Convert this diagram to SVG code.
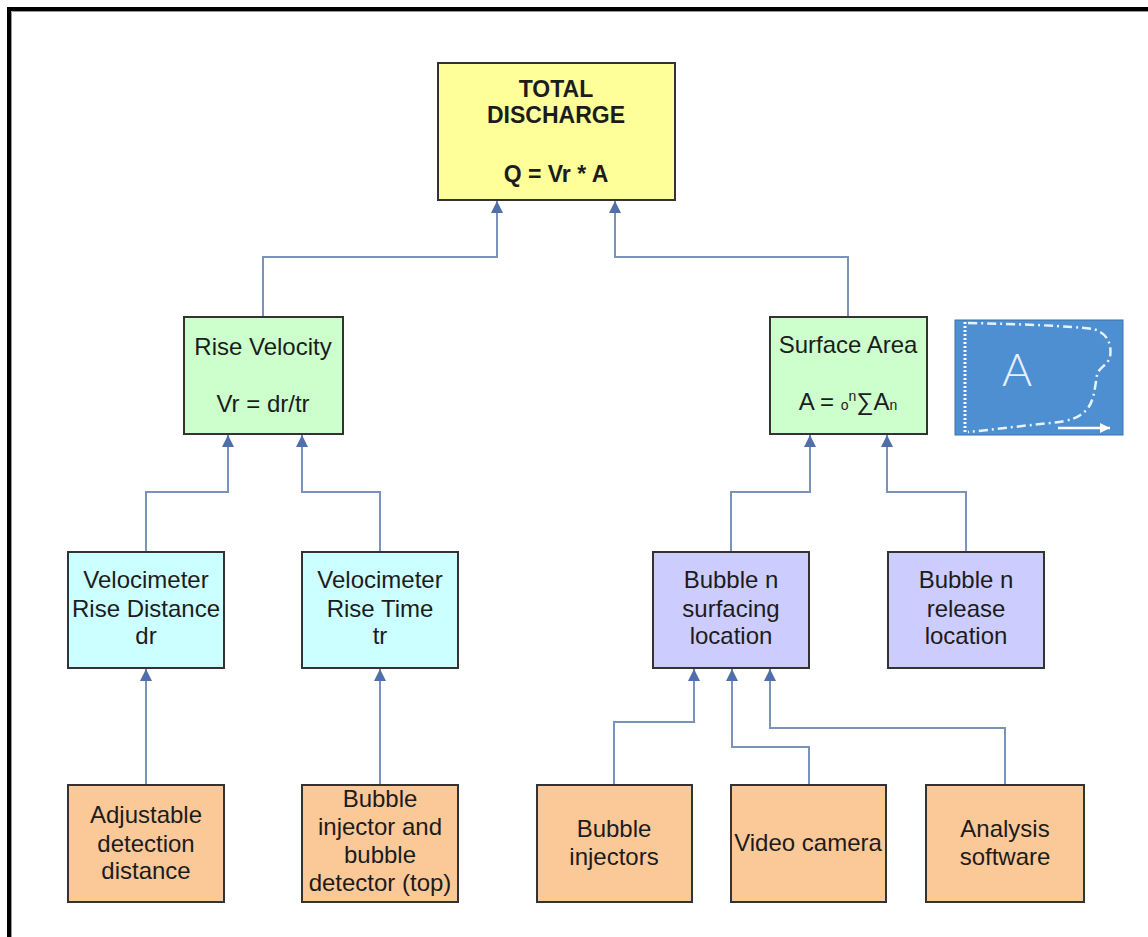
<svg xmlns="http://www.w3.org/2000/svg" width="1148" height="937" viewBox="0 0 1148 937">
<defs>
<style>
.box{stroke:#333;stroke-width:2}
.y{fill:#ffff99}.g{fill:#ccffcc}.c{fill:#ccffff}.p{fill:#ccccff}.o{fill:#fbc898}
.t{font-family:"Liberation Sans",Arial,sans-serif;font-size:24px;fill:#1c1c1c;text-anchor:middle}
.b{font-weight:bold;font-size:23px}
.con{fill:none;stroke:#7a93bd;stroke-width:2}
</style>
<marker id="ah" viewBox="0 0 10 10" refX="10" refY="5" markerWidth="6" markerHeight="6" orient="auto" markerUnits="strokeWidth">
<path d="M0,0 L10,5 L0,10 z" fill="#4f6fa8"/>
</marker>
<marker id="wh" viewBox="0 0 10 10" refX="10" refY="5" markerWidth="4" markerHeight="4" orient="auto" markerUnits="strokeWidth">
<path d="M0,0 L10,5 L0,10 z" fill="#ffffff"/>
</marker>
</defs>
<rect width="1148" height="937" fill="#ffffff"/>
<path d="M9,937 V9 H1148" fill="none" stroke="#000" stroke-width="4"/>
<path d="M11.5,937 V11.5 H1148" fill="none" stroke="#999" stroke-width="1"/>

<g id="connectors">
<path class="con" d="M263,317 V257 H497 V201" marker-end="url(#ah)"/>
<path class="con" d="M848,317 V257 H615 V201" marker-end="url(#ah)"/>
<path class="con" d="M146,552 V492 H228 V435" marker-end="url(#ah)"/>
<path class="con" d="M380,552 V492 H302 V435" marker-end="url(#ah)"/>
<path class="con" d="M731,552 V492 H810 V435" marker-end="url(#ah)"/>
<path class="con" d="M966,552 V492 H887 V435" marker-end="url(#ah)"/>
<path class="con" d="M146,785 V669" marker-end="url(#ah)"/>
<path class="con" d="M380,785 V669" marker-end="url(#ah)"/>
<path class="con" d="M614,785 V722 H694 V669" marker-end="url(#ah)"/>
<path class="con" d="M809,785 V747 H732 V669" marker-end="url(#ah)"/>
<path class="con" d="M1005,785 V728 H770 V669" marker-end="url(#ah)"/>
</g>

<g id="total">
<rect class="box y" x="438" y="63" width="237" height="137"/>
<text class="t b" x="556" y="97">TOTAL</text>
<text class="t b" x="556" y="123">DISCHARGE</text>
<text class="t b" x="556" y="182">Q = Vr * A</text>
</g>

<g id="rise-velocity">
<rect class="box g" x="184" y="317" width="159" height="117"/>
<text class="t" x="263" y="355">Rise Velocity</text>
<text class="t" x="263" y="412">Vr = dr/tr</text>
</g>

<g id="surface-area">
<rect class="box g" x="770" y="317" width="157" height="117"/>
<text class="t" x="848" y="353">Surface Area</text>
<text class="t" x="848" y="410">A = <tspan font-size="14">o</tspan><tspan font-size="14" dy="-9">n</tspan><tspan dy="9">∑A</tspan><tspan font-size="14">n</tspan></text>
</g>

<g id="area-illustration">
<rect x="955" y="320" width="168" height="115" fill="#4d8fd1" stroke="#3f73a8" stroke-width="1"/>
<line x1="965" y1="322" x2="965" y2="434" stroke="#ffffff" stroke-width="3" stroke-dasharray="2,2"/>
<path d="M968,323 C1020,324 1070,326 1093,329 C1108,333 1112,345 1110,357 C1108,365 1098,368 1097,375 C1095,387 1094,400 1088,408 C1080,418 1070,421 1050,423 C1020,426 990,430 968,432" fill="none" stroke="#e8f2ff" stroke-width="2.5" stroke-dasharray="9,4,2,4"/>
<line x1="1058" y1="428" x2="1110" y2="428" stroke="#ffffff" stroke-width="2.5" marker-end="url(#wh)"/>
<text x="1017" y="386" font-family="Lato,'DejaVu Sans',sans-serif" font-weight="300" font-size="46" fill="#e6f0ff" text-anchor="middle">A</text>
</g>

<g id="rise-distance">
<rect class="box c" x="68" y="552" width="156" height="116"/>
<text class="t" x="146" y="588">Velocimeter</text>
<text class="t" x="146" y="617">Rise Distance</text>
<text class="t" x="146" y="644">dr</text>
</g>

<g id="rise-time">
<rect class="box c" x="302" y="552" width="156" height="116"/>
<text class="t" x="380" y="588">Velocimeter</text>
<text class="t" x="380" y="617">Rise Time</text>
<text class="t" x="380" y="644">tr</text>
</g>

<g id="surfacing-location">
<rect class="box p" x="653" y="552" width="156" height="116"/>
<text class="t" x="731" y="588">Bubble n</text>
<text class="t" x="731" y="617">surfacing</text>
<text class="t" x="731" y="644">location</text>
</g>

<g id="release-location">
<rect class="box p" x="888" y="552" width="156" height="116"/>
<text class="t" x="966" y="588">Bubble n</text>
<text class="t" x="966" y="617">release</text>
<text class="t" x="966" y="644">location</text>
</g>

<g id="adjustable">
<rect class="box o" x="68" y="785" width="156" height="117"/>
<text class="t" x="146" y="823">Adjustable</text>
<text class="t" x="146" y="852">detection</text>
<text class="t" x="146" y="879">distance</text>
</g>

<g id="injector-detector">
<rect class="box o" x="302" y="785" width="156" height="117"/>
<text class="t" x="380" y="807">Bubble</text>
<text class="t" x="380" y="835">injector and</text>
<text class="t" x="380" y="863">bubble</text>
<text class="t" x="380" y="891">detector (top)</text>
</g>

<g id="bubble-injectors">
<rect class="box o" x="537" y="785" width="155" height="117"/>
<text class="t" x="614" y="837">Bubble</text>
<text class="t" x="614" y="865">injectors</text>
</g>

<g id="video-camera">
<rect class="box o" x="731" y="785" width="155" height="117"/>
<text class="t" x="808" y="851">Video camera</text>
</g>

<g id="analysis-software">
<rect class="box o" x="926" y="785" width="158" height="117"/>
<text class="t" x="1005" y="837">Analysis</text>
<text class="t" x="1005" y="865">software</text>
</g>
</svg>
